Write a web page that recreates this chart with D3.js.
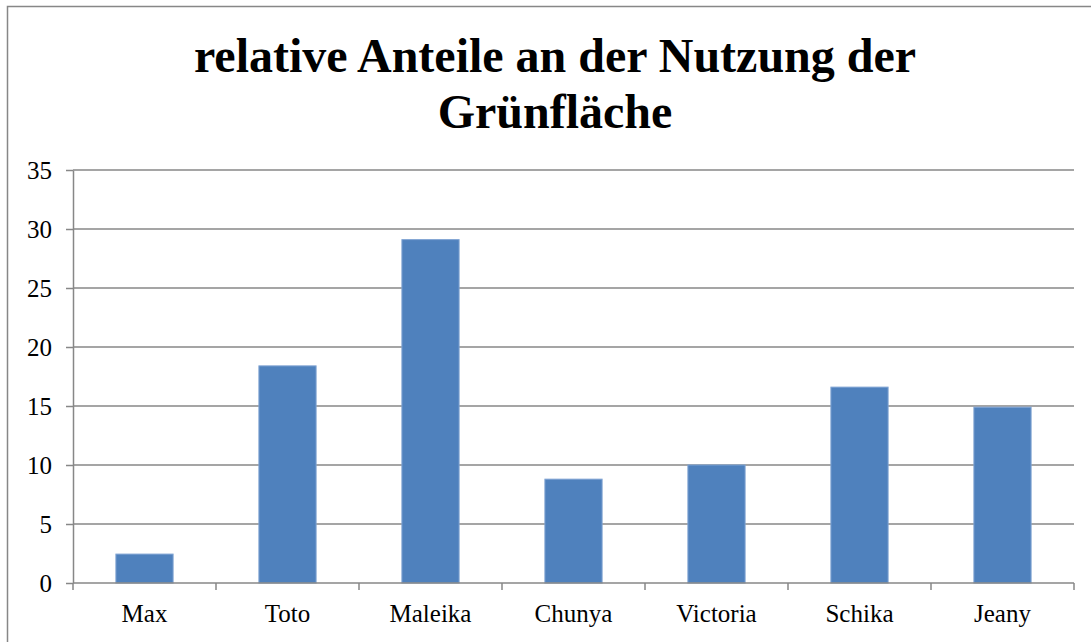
<!DOCTYPE html>
<html>
<head>
<meta charset="utf-8">
<script src="https://cdn.jsdelivr.net/npm/d3@7"></script>
<style>
  body { margin: 0; background: #fff; }
  svg text { font-family: "Liberation Serif", "Times New Roman", serif; }
</style>
</head>
<body>
<div id="chart"></div>
<script>
const names = ["Max", "Toto", "Maleika", "Chunya", "Victoria", "Schika", "Jeany"];
const shares = [2.45, 18.4, 29.1, 8.8, 10.0, 16.6, 14.9];
const yTicks = [0, 5, 10, 15, 20, 25, 30, 35];
const titleLines = ["relative Anteile an der Nutzung der", "Grünfläche"];

const width = 1091, height = 642;
const margin = {top: 170, right: 17, bottom: 59, left: 73};

const svg = d3.select("#chart").append("svg")
    .attr("width", width)
    .attr("height", height);

// outer chart frame
svg.append("rect")
    .attr("x", 7.5).attr("y", 6.5)
    .attr("width", width + 10).attr("height", height + 10)
    .attr("fill", "none")
    .attr("stroke", "#878787")
    .attr("stroke-width", 1.5);

const x = d3.scaleBand()
    .domain(names)
    .range([margin.left, width - margin.right])
    .paddingInner(0.6)
    .paddingOuter(0.3);

const y = d3.scaleLinear()
    .domain([0, 35])
    .range([height - margin.bottom, margin.top]);

// gridlines
svg.append("g")
    .selectAll("line")
    .data(yTicks.filter(function(d) { return d > 0; }))
    .join("line")
    .attr("x1", margin.left)
    .attr("x2", width - margin.right)
    .attr("y1", function(d) { return y(d); })
    .attr("y2", function(d) { return y(d); })
    .attr("stroke", "#878787")
    .attr("stroke-width", 1.5);

// y axis
const yAxis = svg.append("g")
    .attr("transform", "translate(" + margin.left + ",0)")
    .call(d3.axisLeft(y).tickValues(yTicks).tickSize(7).tickPadding(14)
        .tickSizeOuter(0));
yAxis.select(".domain").attr("stroke", "#878787").attr("stroke-width", 1.5);
yAxis.selectAll(".tick line").attr("stroke", "#878787").attr("stroke-width", 1.5);
yAxis.selectAll(".tick text")
    .attr("font-size", 25)
    .attr("fill", "#000")
    .style("font-family", "'Liberation Serif', serif");

// bars
svg.append("g")
    .selectAll("rect")
    .data(names)
    .join("rect")
    .attr("x", function(d) { return x(d); })
    .attr("y", function(d, i) { return y(shares[i]); })
    .attr("width", x.bandwidth())
    .attr("height", function(d, i) { return y(0) - y(shares[i]); })
    .attr("fill", "#4F81BD")
    .attr("stroke", "#7FA3D3")
    .attr("stroke-width", 1);

// x axis with ticks between categories
const step = x.step();
const xTickPos = d3.range(names.length + 1).map(function(i) {
    return margin.left + i * step;
});
const xg = svg.append("g");
xg.append("line")
    .attr("x1", margin.left).attr("x2", width - margin.right)
    .attr("y1", y(0)).attr("y2", y(0))
    .attr("stroke", "#878787").attr("stroke-width", 1.5);
xg.selectAll("line.tick")
    .data(xTickPos)
    .join("line")
    .attr("class", "tick")
    .attr("x1", function(d) { return d; })
    .attr("x2", function(d) { return d; })
    .attr("y1", y(0))
    .attr("y2", y(0) + 7)
    .attr("stroke", "#878787").attr("stroke-width", 1.5);
xg.selectAll("text")
    .data(names)
    .join("text")
    .attr("x", function(d) { return x(d) + x.bandwidth() / 2; })
    .attr("y", y(0) + 39)
    .attr("text-anchor", "middle")
    .attr("font-size", 25)
    .text(function(d) { return d; });

// title
svg.append("g")
    .selectAll("text")
    .data(titleLines)
    .join("text")
    .attr("x", 555)
    .attr("y", function(d, i) { return 72 + i * 56; })
    .attr("text-anchor", "middle")
    .attr("font-size", 48)
    .attr("font-weight", "bold")
    .text(function(d) { return d; });
</script>
</body>
</html>
